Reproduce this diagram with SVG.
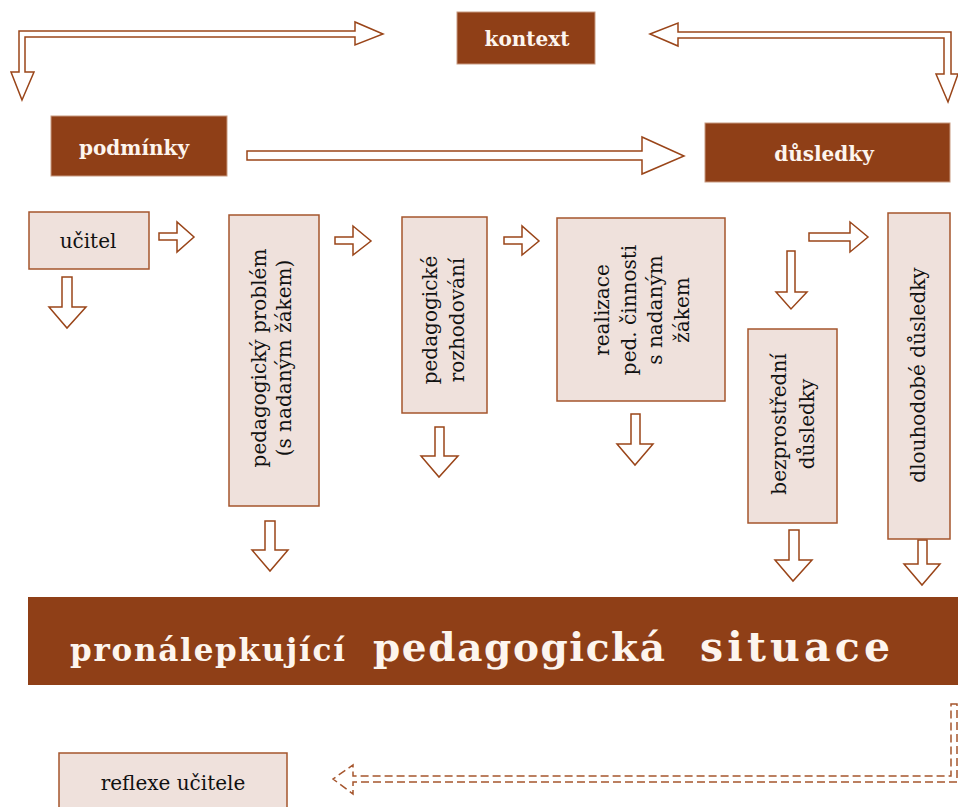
<svg xmlns="http://www.w3.org/2000/svg" width="958" height="807" viewBox="0 0 958 807">
<style>
.dark{fill:#8f3f17;stroke:#c89a80;stroke-width:1}
.light{fill:#efe1dc;stroke:#a5552d;stroke-width:1.5}
.arr{fill:#ffffff;stroke:#9a4519;stroke-width:1.5;stroke-linejoin:miter}
.dash{fill:none;stroke:#a5552d;stroke-width:1.5;stroke-dasharray:8 4}
.hd{font-family:"DejaVu Serif","Liberation Serif",serif;font-weight:bold;font-size:20px;fill:#fdf5ee;text-anchor:middle}
.tx{font-family:"DejaVu Serif","Liberation Serif",serif;font-size:20px;fill:#111111;text-anchor:middle}
.bn{font-family:"DejaVu Serif","Liberation Serif",serif;font-weight:bold;fill:#fdf5ee}
</style>
<rect width="958" height="807" fill="#ffffff"/>
<g id="connectors">
<polygon class="arr" points="22,100 34,72 25,72 25,37 355,37 355,45 383,34 355,22 355,31 19,31 19,72 11,72"/>
<polygon class="arr" points="650,34 678,23 678,32 951,32 951,74 958,74 948,102 936,74 944,74 944,38 678,38 678,46"/>
<polygon class="arr" points="247,151 642,151 642,137 684,156 642,174 642,160 247,160"/>
<polygon class="arr" points="159,233 177,233 177,222 194,237 177,252 177,240 159,240"/>
<polygon class="arr" points="335,237 353,237 353,226 371,241 353,255 353,244 335,244"/>
<polygon class="arr" points="504,237 522,237 522,226 539,241 522,255 522,244 504,244"/>
<polygon class="arr" points="809,233 850,233 850,222 868,237 850,252 850,241 809,241"/>
<polygon class="arr" points="62,277 72,277 72,307 86,307 67,328 49,307 62,307"/>
<polygon class="arr" points="265,521 275,521 275,550 288,550 270,571 252,550 265,550"/>
<polygon class="arr" points="435,427 444,427 444,456 458,456 439,477 421,456 435,456"/>
<polygon class="arr" points="631,414 640,414 640,444 653,444 635,465 617,444 631,444"/>
<polygon class="arr" points="787,251 795,251 795,292 807,292 791,309 776,292 787,292"/>
<polygon class="arr" points="789,530 799,530 799,560 812,560 793,581 775,560 789,560"/>
<polygon class="arr" points="918,540 927,540 927,564 940,564 922,585 904,564 918,564"/>
<path class="dash" d="M951,704 L957,704 L957,782 L353,782 L353,794 L333,779 L353,765 L353,776 L951,776 Z"/>
</g>
<g id="kontext">
<rect class="dark" x="457" y="12" width="138" height="52"/>
<text class="hd" x="527" y="46">kontext</text>
</g>
<g id="podminky">
<rect class="dark" x="51" y="116" width="176" height="60"/>
<text class="hd" x="134" y="155">podmínky</text>
</g>
<g id="dusledky">
<rect class="dark" x="705" y="123" width="245" height="59"/>
<text class="hd" x="824" y="161">důsledky</text>
</g>
<g id="ucitel">
<rect class="light" x="29" y="212" width="120" height="57"/>
<text class="tx" x="88" y="248">učitel</text>
</g>
<g id="problem">
<rect class="light" x="229" y="215" width="90" height="291"/>
<text class="tx" transform="translate(274,358) rotate(-90)"><tspan x="0" y="-8">pedagogický problém</tspan><tspan x="0" y="17">(s nadaným žákem)</tspan></text>
</g>
<g id="rozhodovani">
<rect class="light" x="402" y="217" width="85" height="196"/>
<text class="tx" transform="translate(444,320) rotate(-90)"><tspan x="0" y="-7">pedagogické</tspan><tspan x="0" y="20">rozhodování</tspan></text>
</g>
<g id="realizace">
<rect class="light" x="557" y="218" width="168" height="183"/>
<text class="tx" transform="translate(641,310) rotate(-90)"><tspan x="0" y="-32">realizace</tspan><tspan x="0" y="-5">ped. činnosti</tspan><tspan x="0" y="21">s nadaným</tspan><tspan x="0" y="48">žákem</tspan></text>
</g>
<g id="bezprostredni">
<rect class="light" x="748" y="329" width="89" height="194"/>
<text class="tx" transform="translate(793,424) rotate(-90)"><tspan x="0" y="-7">bezprostřední</tspan><tspan x="0" y="21">důsledky</tspan></text>
</g>
<g id="dlouhodobe">
<rect class="light" x="888" y="213" width="62" height="326"/>
<text class="tx" transform="translate(919,375) rotate(-90)"><tspan x="0" y="6">dlouhodobé důsledky</tspan></text>
</g>
<g id="situace">
<rect x="28" y="597" width="935" height="88" fill="#8f3f17"/>
<text class="bn" y="661"><tspan x="70" font-size="31" textLength="275" lengthAdjust="spacing">pronálepkující</tspan><tspan x="373" font-size="39" textLength="292" lengthAdjust="spacing">pedagogická</tspan><tspan x="700" font-size="41" textLength="190" lengthAdjust="spacing">situace</tspan></text>
</g>
<g id="reflexe">
<rect class="light" x="59" y="753" width="228" height="60"/>
<text class="tx" x="173" y="790">reflexe učitele</text>
</g>
</svg>
